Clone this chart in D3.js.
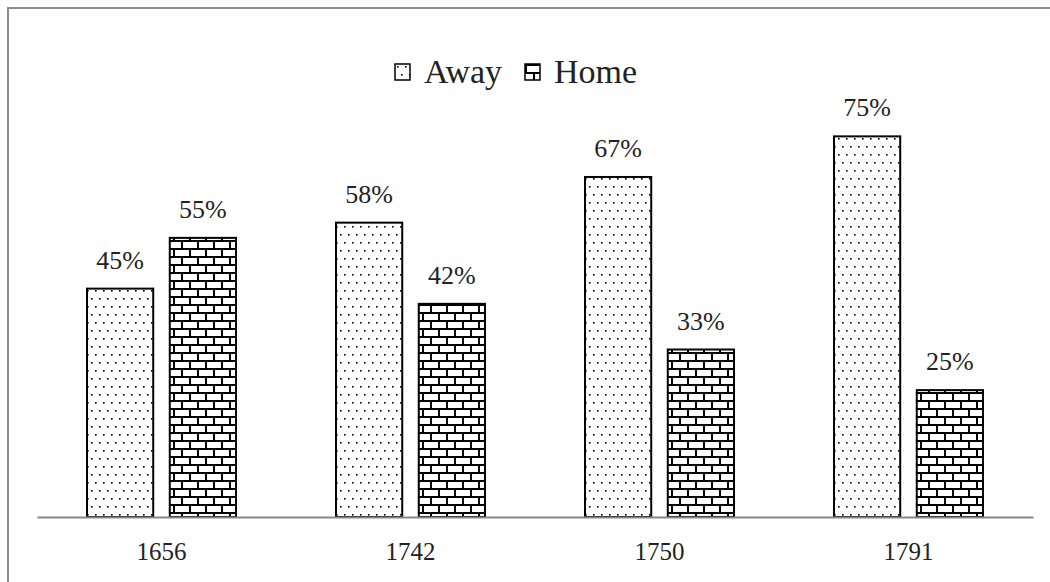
<!DOCTYPE html>
<html>
<head>
<meta charset="utf-8">
<script src="https://cdn.jsdelivr.net/npm/d3@7"></script>
<style>
  html, body { margin: 0; padding: 0; background: #fff; }
</style>
</head>
<body>
<svg id="chart" width="1050" height="582"></svg>
<script>
// Share of Away vs Home by year
const years = ["1656", "1742", "1750", "1791"];
const seriesNames = ["Away", "Home"];
const awayValues = [0.45, 0.58, 0.67, 0.75];
const homeValues = [0.55, 0.42, 0.33, 0.25];

const FONT = "'Liberation Serif', 'DejaVu Serif', serif";
const svg = d3.select("#chart");
const W = 1050, H = 582;

// Chart frame
svg.append("rect")
  .attr("x", 8).attr("y", 8)
  .attr("width", W + 20).attr("height", H + 20)
  .attr("fill", "#fff").attr("stroke", "#8c8c8c").attr("stroke-width", 2);

// Fill patterns
const defs = svg.append("defs");
const dots = defs.append("pattern")
  .attr("id", "pat-dots").attr("patternUnits", "userSpaceOnUse")
  .attr("width", 8).attr("height", 16);
dots.append("rect").attr("width", 8).attr("height", 16).attr("fill", "#fff");
dots.append("rect").attr("x", 2).attr("y", 2).attr("width", 1.6).attr("height", 1.6).attr("fill", "#000");
dots.append("rect").attr("x", 6).attr("y", 10).attr("width", 1.6).attr("height", 1.6).attr("fill", "#000");

const brick = defs.append("pattern")
  .attr("id", "pat-brick").attr("patternUnits", "userSpaceOnUse")
  .attr("width", 16).attr("height", 16);
brick.append("rect").attr("width", 16).attr("height", 16).attr("fill", "#fff");
brick.append("rect").attr("x", 0).attr("y", 0).attr("width", 16).attr("height", 2).attr("fill", "#000");
brick.append("rect").attr("x", 0).attr("y", 8).attr("width", 16).attr("height", 2).attr("fill", "#000");
brick.append("rect").attr("x", 0).attr("y", 0).attr("width", 2).attr("height", 8).attr("fill", "#000");
brick.append("rect").attr("x", 8).attr("y", 8).attr("width", 2).attr("height", 8).attr("fill", "#000");

const fills = { Away: "url(#pat-dots)", Home: "url(#pat-brick)" };

// Scales
const plot = { left: 37, right: 1033, top: 111, bottom: 517 };
const x0 = d3.scaleBand().domain(years).range([plot.left, plot.right]).paddingInner(0).paddingOuter(0);
const x1 = d3.scaleBand().domain(seriesNames).range([50, x0.bandwidth() - 50]).paddingInner(0.2);
const y = d3.scaleLinear().domain([0, 0.8]).range([plot.bottom, plot.top]);

const rows = years.map((yr, i) => ({ year: yr, Away: awayValues[i], Home: homeValues[i] }));

// Bars
const groups = svg.append("g").selectAll("g")
  .data(rows).join("g")
  .attr("transform", d => `translate(${x0(d.year)},0)`);

groups.selectAll("rect")
  .data(d => seriesNames.map(k => ({ key: k, value: d[k] })))
  .join("rect")
  .attr("x", d => x1(d.key))
  .attr("y", d => y(d.value))
  .attr("width", x1.bandwidth())
  .attr("height", d => y(0) - y(d.value))
  .attr("fill", d => fills[d.key])
  .attr("stroke", "#000").attr("stroke-width", 2);

// Value labels
groups.selectAll("text.val")
  .data(d => seriesNames.map(k => ({ key: k, value: d[k] })))
  .join("text").attr("class", "val")
  .attr("x", d => x1(d.key) + x1.bandwidth() / 2)
  .attr("y", d => y(d.value) - 20)
  .attr("text-anchor", "middle")
  .style("font-family", FONT)
  .style("font-size", "26px")
  .attr("fill", "#222")
  .text(d => d3.format(".0%")(d.value));

// Category axis
const xAxis = svg.append("g")
  .attr("transform", `translate(0,${plot.bottom})`)
  .call(d3.axisBottom(x0).tickSize(0).tickPadding(0));
xAxis.select(".domain").attr("stroke", "#888").attr("stroke-width", 2);
xAxis.selectAll("text")
  .attr("dy", null)
  .attr("y", 43)
  .style("font-family", FONT)
  .style("font-size", "25px")
  .attr("fill", "#222");

// Legend
const legend = svg.append("g").attr("transform", "translate(395,64)");
const legendItems = [
  { key: "Away", x: 0 },
  { key: "Home", x: 130 }
];
const li = legend.selectAll("g").data(legendItems).join("g")
  .attr("transform", d => `translate(${d.x},0)`);
li.append("rect")
  .attr("width", 15).attr("height", 16)
  .attr("fill", d => fills[d.key])
  .attr("stroke", "#000").attr("stroke-width", 1.5);
li.append("text")
  .attr("x", 29).attr("y", 19)
  .style("font-family", FONT)
  .style("font-size", "34px")
  .attr("fill", "#222")
  .text(d => d.key);
</script>
</body>
</html>
